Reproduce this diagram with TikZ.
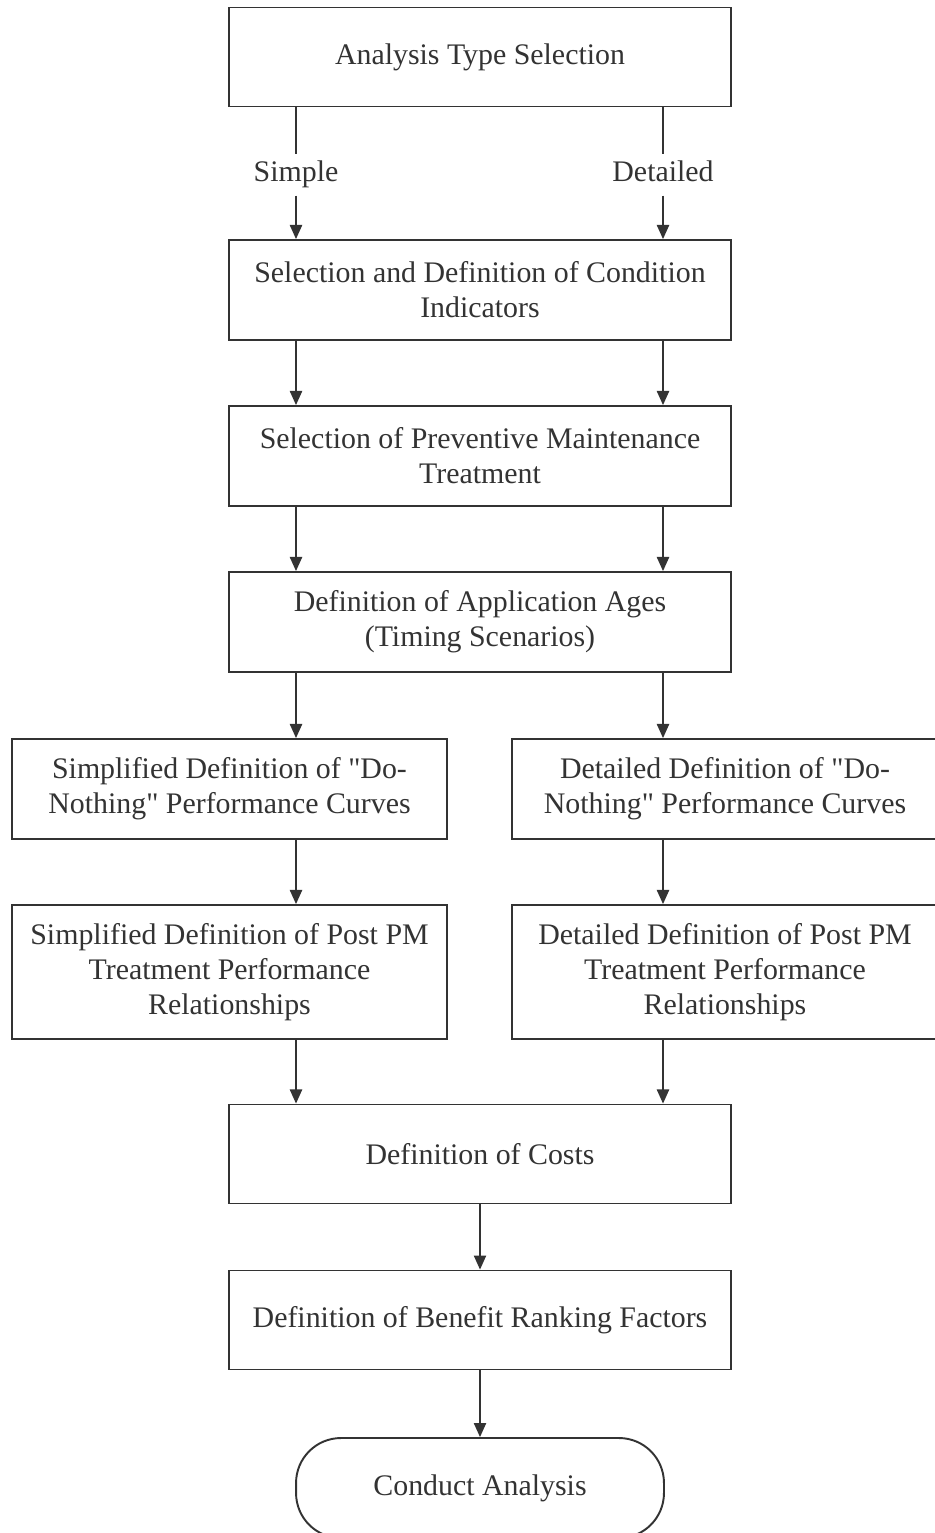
\documentclass[tikz,border=0pt]{standalone}
\usepackage{fontspec}
\setmainfont{Liberation Serif}
\usetikzlibrary{arrows.meta,positioning,calc}

\newcommand{\qt}{\XeTeXglyph\XeTeXcharglyph"0022\relax}

\begin{document}
\begin{tikzpicture}[x=0.02cm, y=-0.02cm,
  box/.style={draw=black!80, line width=1.1pt, rectangle, align=center, text=black!80, inner sep=2pt, font=\fontsize{17}{20}\selectfont},
  lbl/.style={text=black!80, inner sep=4pt, text height=11pt, text depth=4pt, font=\fontsize{17}{20}\selectfont},
  arr/.style={draw=black!80, line width=0.8pt, -{Triangle[length=8pt,width=7pt]}}]

\useasboundingbox (0,0) rectangle (935,1533);
\fill[white] (0,0) rectangle (935,1533);
\clip (0,0) rectangle (935,1533);

% Branch lines
\coordinate (xl) at (296,0);
\coordinate (xr) at (663,0);

% Analysis type
\node[box, minimum width=10.04cm, minimum height=1.98cm] (type) at (480,57) {Analysis Type Selection};

% Common steps
\node[box, minimum width=10.04cm, minimum height=2cm] (ind) at (480,290) {Selection and Definition of Condition\\Indicators};
\node[box, minimum width=10.04cm, minimum height=2cm] (pm) at (480,456) {Selection of Preventive Maintenance\\Treatment};
\node[box, minimum width=10.04cm, minimum height=2cm] (ages) at (480,622) {Definition of Application Ages\\(Timing Scenarios)};

% Simple branch
\node[box, minimum width=8.7cm, minimum height=2cm] (dnS) at (229.5,789) {Simplified Definition of \qt Do-\\Nothing\qt{} Performance Curves};
\node[box, minimum width=8.7cm, minimum height=2.68cm] (postS) at (229.5,972) {Simplified Definition of Post PM\\Treatment Performance\\Relationships};

% Detailed branch
\node[box, minimum width=8.52cm, minimum height=2cm] (dnD) at (725,789) {Detailed Definition of \qt Do-\\Nothing\qt{} Performance Curves};
\node[box, minimum width=8.52cm, minimum height=2.68cm] (postD) at (725,972) {Detailed Definition of Post PM\\Treatment Performance\\Relationships};

% Final steps
\node[box, minimum width=10.04cm, minimum height=1.98cm] (cost) at (480,1154) {Definition of Costs};
\node[box, minimum width=10.04cm, minimum height=1.98cm] (ben) at (480,1320) {Definition of Benefit Ranking Factors};
\node[box, minimum width=7.36cm, minimum height=2cm, rounded corners=0.9cm] (run) at (480,1488) {Conduct Analysis};

% Labels
\node[lbl] (simple) at (296,175) {Simple};
\node[lbl] (detail) at (663,175) {Detailed};

% Arrows
\draw[arr, -] (type.south -| xl) -- (simple);
\draw[arr] (simple) -- (ind.north -| xl);
\draw[arr, -] (type.south -| xr) -- (detail);
\draw[arr] (detail) -- (ind.north -| xr);
\foreach \a/\b in {ind/pm, pm/ages, ages/dnS, dnS/postS, postS/cost}
  \draw[arr] (\a.south -| xl) -- (\b.north -| xl);
\foreach \a/\b in {ind/pm, pm/ages, ages/dnD, dnD/postD, postD/cost}
  \draw[arr] (\a.south -| xr) -- (\b.north -| xr);
\draw[arr] (cost) -- (ben);
\draw[arr] (ben) -- (run);

\end{tikzpicture}
\end{document}
